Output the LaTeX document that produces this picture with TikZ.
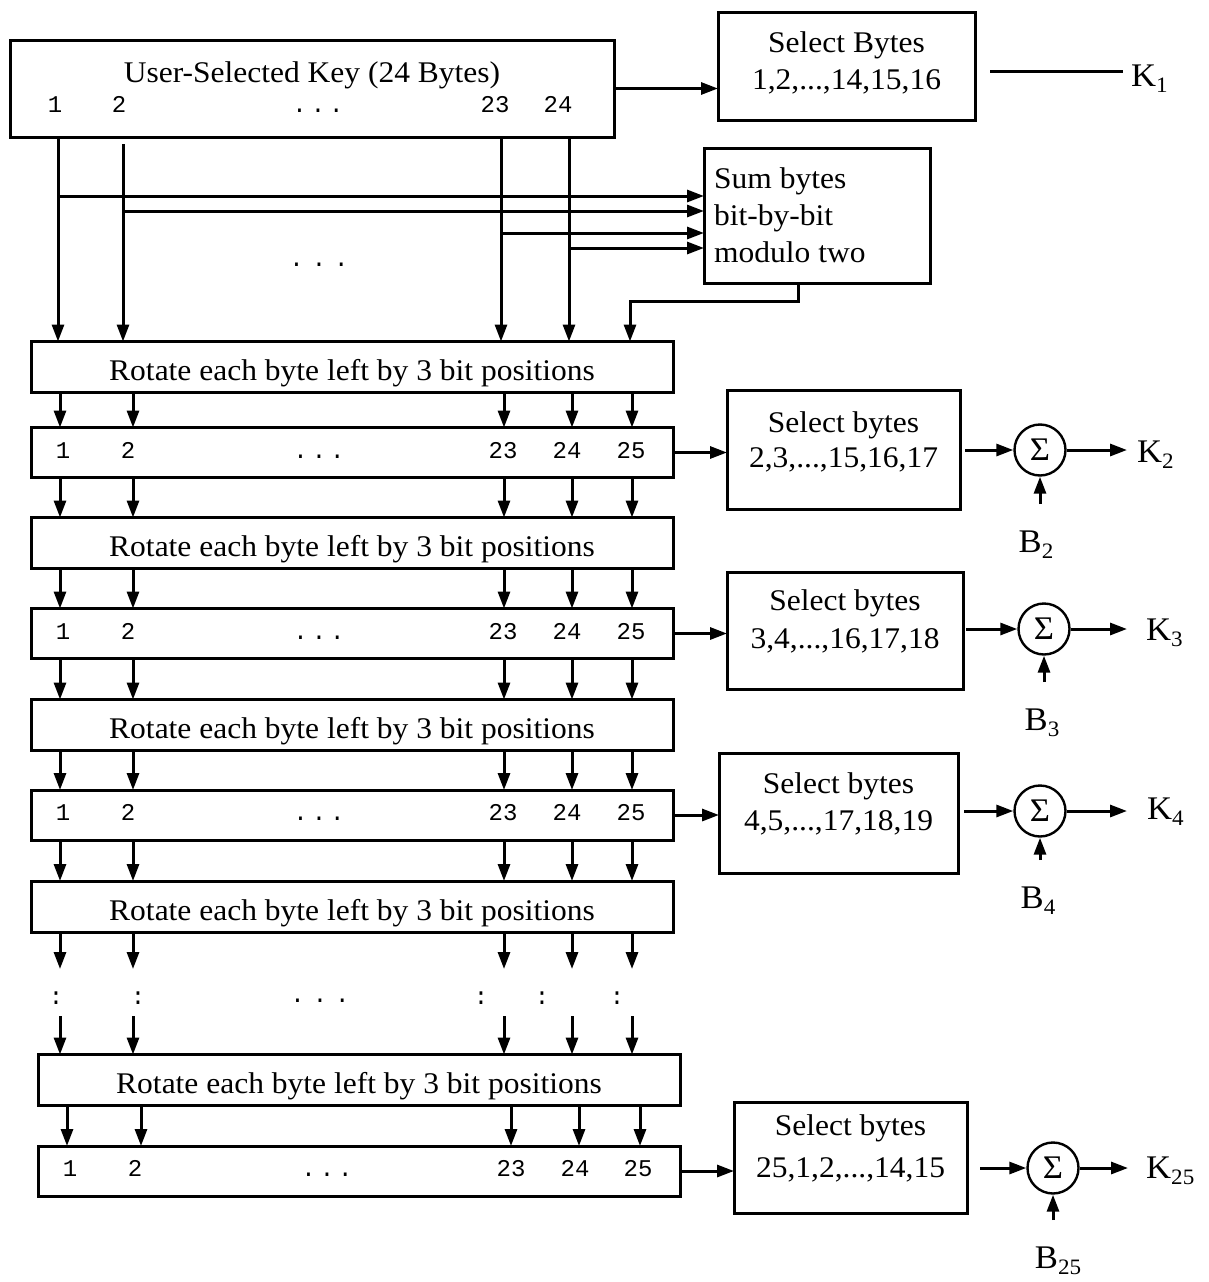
\documentclass[tikz,border=0pt]{standalone}
\usepackage{fontspec}
\setmainfont{Liberation Serif}[FakeStretch=1.05]
\setmonofont{Liberation Mono}
\usetikzlibrary{arrows.meta}
\newcommand\mysub[1]{\raisebox{-0.2em}{\fontsize{22}{22}\selectfont #1}}
\newcommand\bigfont{\fontsize{30}{34}\selectfont}
\newcommand\lblfont{\fontsize{33}{36}\selectfont}
\newcommand\dotsA{.\hspace{4pt}.\hspace{4pt}.}
\newcommand\dotsB{.\hspace{8pt}.\hspace{8pt}.}
\begin{document}
\begin{tikzpicture}[x=1pt,y=-1pt,
  lw/.style={line width=3pt},
  arr/.style={lw, -{Triangle[length=17pt,width=12pt]}},
  plain/.style={lw},
  box/.style={draw, lw, inner sep=0pt, outer sep=0pt},
  rotbox/.style={box, minimum width=642pt, minimum height=51pt, text height=27pt, text depth=0pt, font=\bigfont},
  rowbox/.style={box, minimum width=642pt, minimum height=50pt},
  serif/.style={font=\bigfont, inner sep=0pt, anchor=base},
  lbl/.style={font=\lblfont, inner sep=0pt, anchor=base},
  mono/.style={font=\fontsize{24}{24}\ttfamily, inner sep=0pt, anchor=base},
  sumc/.style={circle, draw, line width=2.4pt, minimum size=51pt, inner sep=0pt, font=\fontsize{33}{33}\selectfont},
]
\useasboundingbox (0,0) rectangle (1208,1282);

% ---------- top key box ----------
\node[box, minimum width=604pt, minimum height=97pt] (key) at (312,88.5) {};
\node[serif] (keyt) at (312,82) {User-Selected Key (24 Bytes)};
\node[mono] (kn1) at (55,112) {1};
\node[mono] (kn2) at (119,112) {2};
\node[mono] (kdots) at (318,112) {\dotsA};
\node[mono] (kn23) at (495,112) {23};
\node[mono] (kn24) at (558,112) {24};

% ---------- select bytes 1 ----------
\node[box, minimum width=257pt, minimum height=108pt] (sel1) at (846.5,66) {};
\node[serif] (sel1a) at (846.5,52) {Select Bytes};
\node[serif] (sel1b) at (846.5,89) {1,2,...,14,15,16};
\draw[arr] (key.east) -- (key.east -| sel1.west);
\coordinate (k1s) at (990,71);
\node[lbl, anchor=base west] (K1) at (1131,86) {K\mysub{1}};
\draw[plain, shorten >=8pt] (k1s) -- (k1s -| K1.west);

% ---------- sum box ----------
\node[box, minimum width=226pt, minimum height=135pt] (sum) at (817,215.5) {};
\node[serif, anchor=base west] (s1) at (714,188) {Sum bytes};
\node[serif, anchor=base west] (s2) at (714,225) {bit-by-bit};
\node[serif, anchor=base west] (s3) at (714,262) {modulo two};

% ---------- rotate / row boxes ----------
\node[rotbox] (rot1) at (352,367) {Rotate each byte left by 3 bit positions};
\node[rowbox] (row1) at (352,452.5) {};
\node[rotbox] (rot2) at (352,543) {Rotate each byte left by 3 bit positions};
\node[rowbox] (row2) at (352,633.5) {};
\node[rotbox] (rot3) at (352,725) {Rotate each byte left by 3 bit positions};
\node[rowbox] (row3) at (352,815) {};
\node[rotbox] (rot4) at (352,906.5) {Rotate each byte left by 3 bit positions};
\node[rotbox] (rot5) at (359,1080) {Rotate each byte left by 3 bit positions};
\node[rowbox] (row5) at (359,1171) {};

% row numbers
\foreach \r/\yb in {1/458, 2/639, 3/820} {
  \node[mono] (r\r n1) at (63,\yb) {1};
  \node[mono] (r\r n2) at (128,\yb) {2};
  \node[mono] (r\r dots) at (319,\yb) {\dotsA};
  \node[mono] (r\r n23) at (503,\yb) {23};
  \node[mono] (r\r n24) at (567,\yb) {24};
  \node[mono] (r\r n25) at (631,\yb) {25};
}
\node[mono] (r5n1) at (70,1176) {1};
\node[mono] (r5n2) at (135,1176) {2};
\node[mono] (r5dots) at (327,1176) {\dotsA};
\node[mono] (r5n23) at (511,1176) {23};
\node[mono] (r5n24) at (575,1176) {24};
\node[mono] (r5n25) at (638,1176) {25};

% ---------- columns ----------
\coordinate (t1) at (58,0);
\coordinate (t2) at (123,0);
\coordinate (t3) at (501,0);
\coordinate (t4) at (569,0);
\coordinate (t5) at (630,0);
\coordinate (t2top) at (123,144);

\coordinate (m1) at (60,0);
\coordinate (m2) at (133,0);
\coordinate (m3) at (504,0);
\coordinate (m4) at (572,0);
\coordinate (m5) at (632,0);

\coordinate (b1) at (67,0);
\coordinate (b2) at (141,0);
\coordinate (b3) at (511,0);
\coordinate (b4) at (579,0);
\coordinate (b5) at (640,0);

% key to rot1
\draw[arr] (key.south -| t1) -- (rot1.north -| t1);
\draw[arr] (t2top) -- (rot1.north -| t2);
\draw[arr] (key.south -| t3) -- (rot1.north -| t3);
\draw[arr] (key.south -| t4) -- (rot1.north -| t4);

% taps to sum box
\coordinate (h1) at (0,196);
\coordinate (h2) at (0,211);
\coordinate (h3) at (0,233);
\coordinate (h4) at (0,248);
\draw[arr] (t1 |- h1) -- (h1 -| sum.west);
\draw[arr] (t2 |- h2) -- (h2 -| sum.west);
\draw[arr] (t3 |- h3) -- (h3 -| sum.west);
\draw[arr] (t4 |- h4) -- (h4 -| sum.west);
\node[mono] (topdots) at (319,266) {\dotsB};

% sum output
\coordinate (sb) at (798,301);
\draw[arr] (sb |- sum.south) -- (sb) -| (rot1.north -| t5);

% vertical arrows between boxes
\foreach \u/\l in {rot1/row1, row1/rot2, rot2/row2, row2/rot3, rot3/row3, row3/rot4} {
  \foreach \c in {m1,m2,m3,m4,m5} {
    \draw[arr] (\u.south -| \c) -- (\l.north -| \c);
  }
}
\coordinate (dA) at (0,969);
\coordinate (dB) at (0,1016);
\foreach \c in {m1,m2,m3,m4,m5} {
  \draw[arr] (rot4.south -| \c) -- (dA -| \c);
  \draw[arr] (dB -| \c) -- (rot5.north -| \c);
}
\foreach \c in {b1,b2,b3,b4,b5} {
  \draw[arr] (rot5.south -| \c) -- (row5.north -| \c);
}
% colons
\node[mono, anchor=center] (col1) at (56,998) {:};
\node[mono, anchor=center] (col2) at (138,998) {:};
\node[mono, anchor=center] (col3) at (481,998) {:};
\node[mono, anchor=center] (col4) at (542,998) {:};
\node[mono, anchor=center] (col5) at (617,998) {:};
\node[mono] (middots) at (320,1002) {\dotsB};

% ---------- right side stages ----------
% stage 2
\node[box, minimum width=233pt, minimum height=119pt] (sel2) at (843.5,449.5) {};
\node[serif] (sel2a) at (843.5,432) {Select bytes};
\node[serif] (sel2b) at (843.5,467) {2,3,...,15,16,17};
\draw[arr] (row1.east) -- (row1.east -| sel2.west);
\node[sumc] (c2) at (1040,450) {Σ};
\draw[arr, shorten <=5pt] (sel2.east |- c2) -- (c2.west);
\node[lbl, anchor=base west] (K2) at (1137,462) {K\mysub{2}};
\draw[arr, shorten >=10pt] (c2.east) -- (c2 -| K2.west);
\node[lbl] (B2) at (1036,552) {B\mysub{2}};
\draw[arr, shorten <=26pt] (B2.north -| c2) -- (c2.south);

% stage 3
\node[box, minimum width=236pt, minimum height=117pt] (sel3) at (845,630.5) {};
\node[serif] (sel3a) at (845,610) {Select bytes};
\node[serif] (sel3b) at (845,648) {3,4,...,16,17,18};
\draw[arr] (row2.east) -- (row2.east -| sel3.west);
\node[sumc] (c3) at (1044,629) {Σ};
\draw[arr, shorten <=3pt] (sel3.east |- c3) -- (c3.west);
\node[lbl, anchor=base west] (K3) at (1146,640) {K\mysub{3}};
\draw[arr, shorten >=19pt] (c3.east) -- (c3 -| K3.west);
\node[lbl] (B3) at (1042,730) {B\mysub{3}};
\draw[arr, shorten <=26pt] (B3.north -| c3) -- (c3.south);

% stage 4
\node[box, minimum width=239pt, minimum height=120pt] (sel4) at (838.5,813) {};
\node[serif] (sel4a) at (838.5,793) {Select bytes};
\node[serif] (sel4b) at (838.5,830) {4,5,...,17,18,19};
\draw[arr] (row3.east) -- (row3.east -| sel4.west);
\node[sumc] (c4) at (1040,811) {Σ};
\draw[arr, shorten <=6pt] (sel4.east |- c4) -- (c4.west);
\node[lbl, anchor=base west] (K4) at (1147,819) {K\mysub{4}};
\draw[arr, shorten >=20pt] (c4.east) -- (c4 -| K4.west);
\node[lbl] (B4) at (1038,908) {B\mysub{4}};
\draw[arr, shorten <=26pt] (B4.north -| c4) -- (c4.south);

% stage 25
\node[box, minimum width=233pt, minimum height=111pt] (sel25) at (850.5,1157.5) {};
\node[serif] (sel25a) at (850.5,1135) {Select bytes};
\node[serif] (sel25b) at (850.5,1177) {25,1,2,...,14,15};
\draw[arr] (row5.east) -- (row5.east -| sel25.west);
\node[sumc] (c25) at (1053,1168) {Σ};
\draw[arr, shorten <=13pt] (sel25.east |- c25) -- (c25.west);
\node[lbl, anchor=base west] (K25) at (1146,1178) {K\mysub{25}};
\draw[arr, shorten >=18pt] (c25.east) -- (c25 -| K25.west);
\node[lbl] (B25) at (1058,1268) {B\mysub{25}};
\draw[arr, shorten <=26pt] (B25.north -| c25) -- (c25.south);

\end{tikzpicture}
\end{document}
